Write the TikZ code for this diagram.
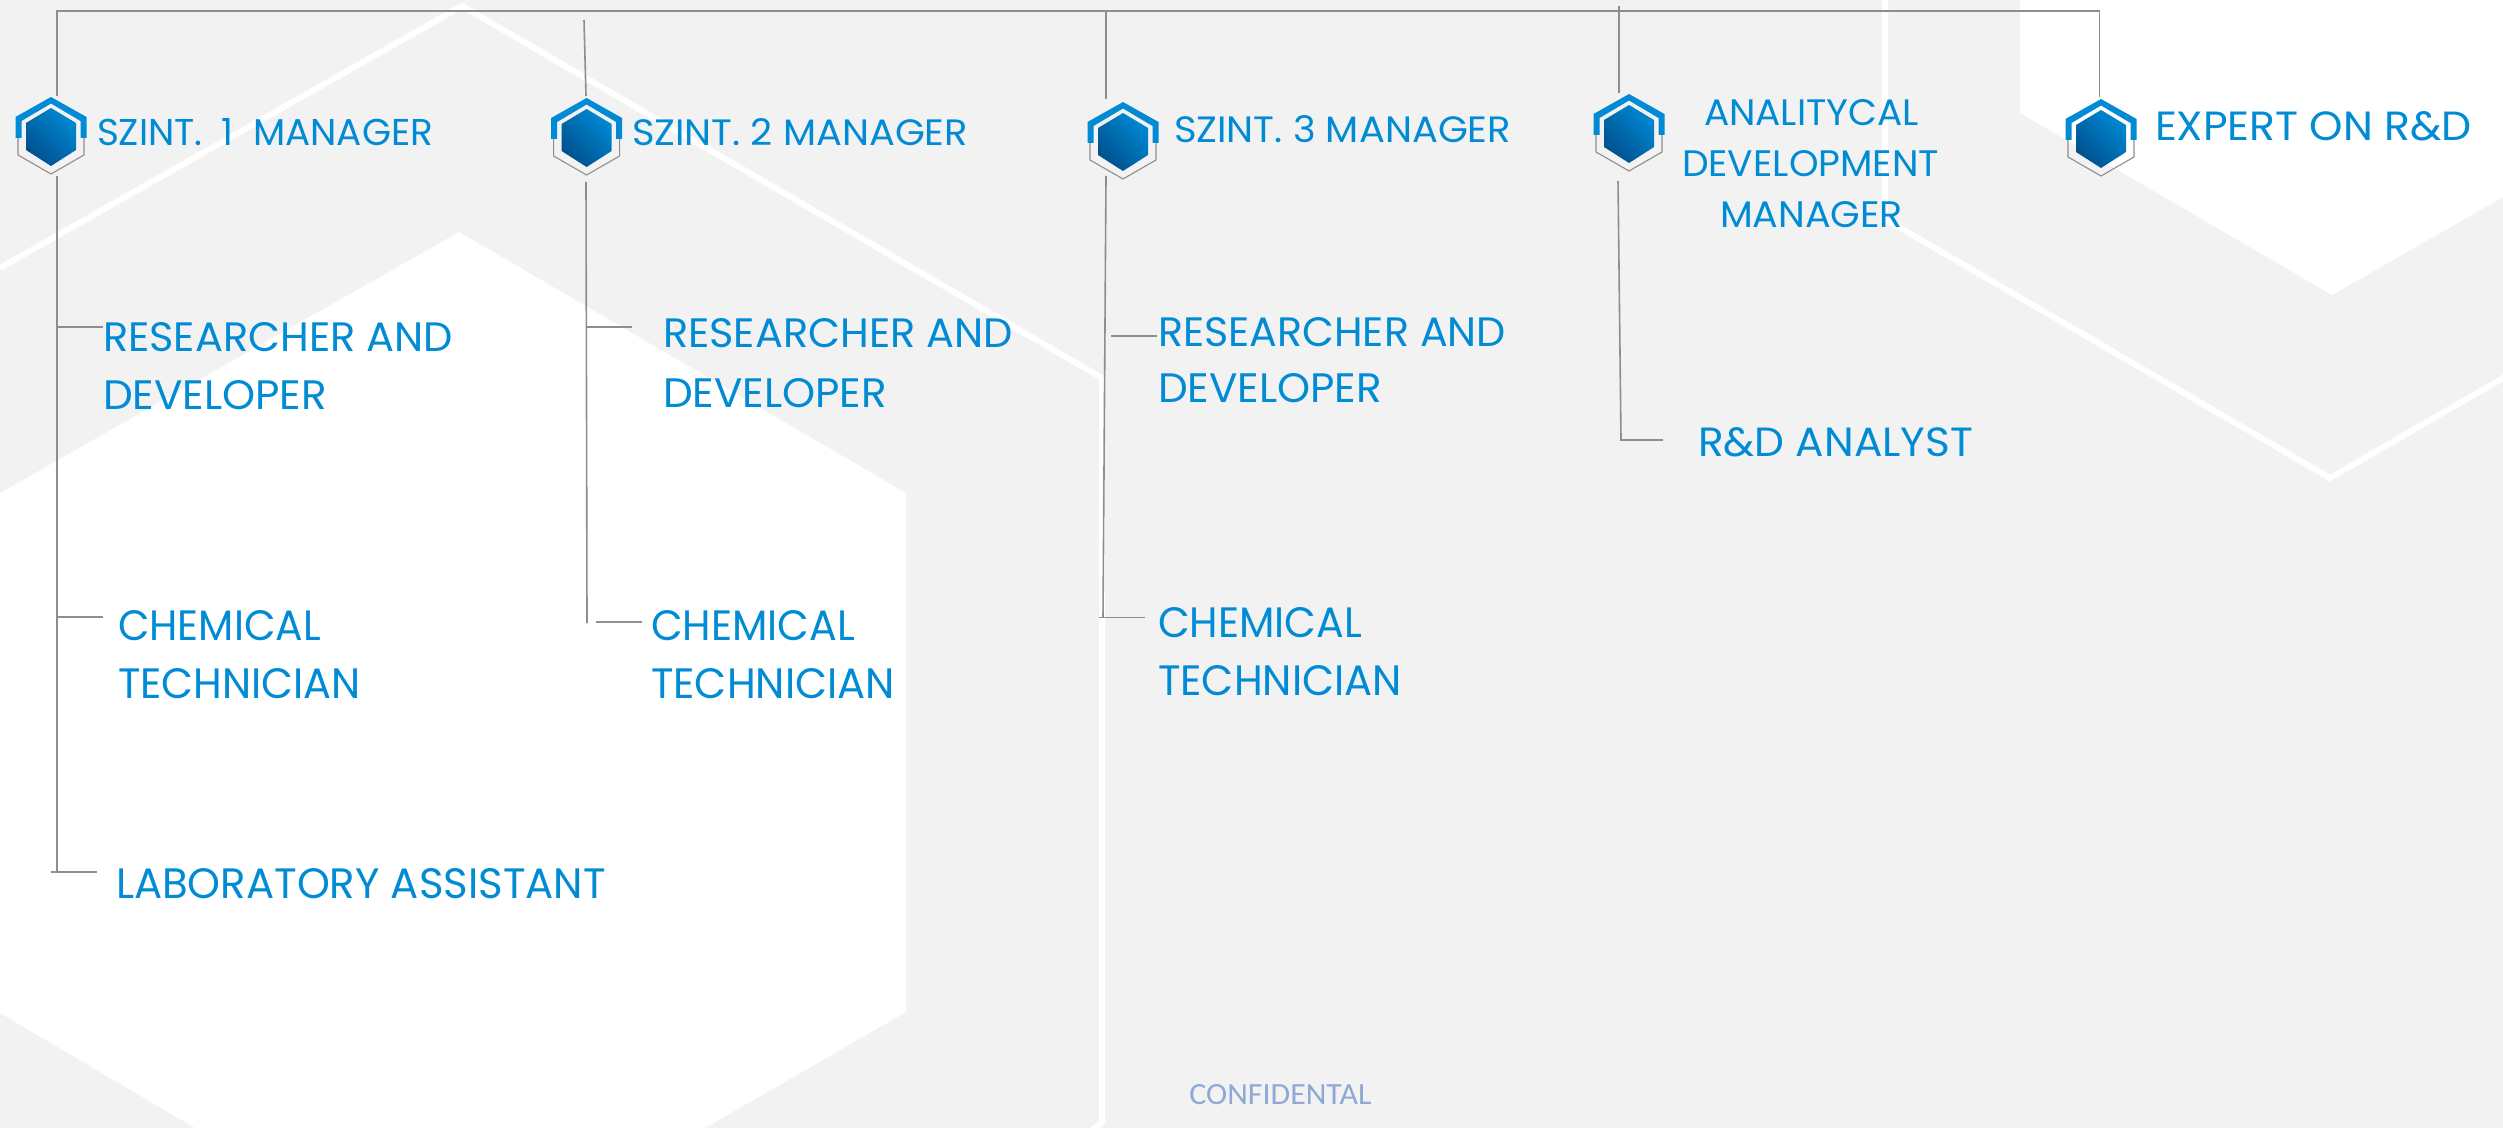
\documentclass[tikz,border=0pt]{standalone}
\usepackage{fontspec}
\usepackage{graphicx}
\newfontfamily\futfont{Poppins}
\newfontfamily\confont{Carlito}
\definecolor{bgcol}{HTML}{F2F2F2}
\definecolor{txtblue}{HTML}{008BD4}
\definecolor{linegray}{HTML}{8E8E8E}
\definecolor{confcol}{HTML}{8FA8D6}
\definecolor{hexdark}{HTML}{00508C}
\definecolor{hexmid}{HTML}{0076BE}
\definecolor{hexlight}{HTML}{0088D4}
\newlength\pxu
\setlength\pxu{0.5pt}
\tikzset{
  lab/.style={anchor=base west,inner sep=0pt,outer sep=0pt,text=txtblue},
  conn/.style={draw=linegray,line width=0.8pt},
  band/.style={draw=white,line width=3pt,miter limit=10},
  hexicon/.pic={
    \draw[draw=linegray,line width=0.55pt] (-33,40) -- (-33,58) -- (0,77) -- (33,58) -- (33,40);
    \fill[txtblue] (-35.5,20) -- (0,0) -- (35.5,20) -- (35.5,41) -- (29.5,41) -- (29.5,24) -- (0,6.5) -- (-29.5,24) -- (-29.5,41) -- (-35.5,41) -- cycle;
    \shade[top color=hexlight,middle color=hexmid,bottom color=hexdark,shading angle=-45]
      (0,11) -- (25,26) -- (25,53) -- (0,69) -- (-25,53) -- (-25,26) -- cycle;
  }
}
% name, x, baseline y, width, cap height, text
\newcommand\lab[6]{\node[lab] (#1) at (#2,#3) {\resizebox{#4\pxu}{#5\pxu}{\futfont #6}};}
\begin{document}
\begin{tikzpicture}[x=0.5pt,y=-0.5pt]
\useasboundingbox (0,0) rectangle (2503,1128);
\fill[bgcol] (0,0) rectangle (2503,1128);
% background hexagons
\fill[white] (0,493) -- (459,232) -- (906,493) -- (906,1012) -- (705,1128) -- (195,1128) -- (0,1013) -- cycle;
\fill[white] (2020,0) -- (2020,113) -- (2332,295) -- (2503,197) -- (2503,0) -- cycle;
\draw[band] (0,268) -- (462,6) -- (1102,378) -- (1102,1122) -- (1088,1134);
\draw[band] (1885,-4) -- (1885,219) -- (2330,478) -- (2510,374);
% icons
\pic at (51,97) {hexicon};
\pic at (586.6,98) {hexicon};
\pic at (1123,102) {hexicon};
\pic at (1629,94) {hexicon};
\pic at (2101,99) {hexicon};
% labels
\lab{m1}{97}{146}{336}{27}{SZINT.\hspace{0.25em} 1\hspace{0.25em} MANAGER}
\lab{m2}{632}{146}{336}{27}{SZINT. 2 MANAGER}
\lab{m3}{1174}{143}{337}{27}{SZINT. 3 MANAGER}
\lab{m4a}{1704}{126}{215}{26}{ANALITYCAL}
\lab{m4b}{1682}{177}{257}{26}{DEVELOPMENT}
\lab{m4c}{1720}{228}{183}{26}{MANAGER}
\lab{m5}{2155}{141}{317}{29}{EXPERT ON R\&D}
\lab{r1a}{103}{351}{350}{29}{RESEARCHER AND}
\lab{r1b}{103}{409}{224}{29}{DEVELOPER}
\lab{r2a}{663}{348}{350}{29}{RESEARCHER AND}
\lab{r2b}{663}{407}{224}{29}{DEVELOPER}
\lab{r3a}{1158}{346}{348}{29}{RESEARCHER AND}
\lab{r3b}{1158}{402}{224}{29}{DEVELOPER}
\lab{c1a}{118}{640}{203}{30}{CHEMICAL}
\lab{c1b}{118}{698}{243}{30}{TECHNICIAN}
\lab{c2a}{651}{640}{204}{30}{CHEMICAL}
\lab{c2b}{651}{698}{244}{30}{TECHNICIAN}
\lab{c3a}{1158}{637}{204}{30}{CHEMICAL}
\lab{c3b}{1158}{695}{244}{30}{TECHNICIAN}
\lab{l1}{116}{898}{490}{30}{LABORATORY ASSISTANT}
\lab{a4}{1698}{456}{275}{29}{R\&D ANALYST}
\node[anchor=base west,inner sep=0pt,text=confcol] (conf) at (1189,1104) {\resizebox{182\pxu}{20\pxu}{\confont CONFIDENTAL}};
% connector end points
\coordinate (tl) at (57,11);
\coordinate (tr) at (2099.5,11);
\coordinate (t1) at (57,96);
\coordinate (d1) at (57,176);
\coordinate (e1) at (57,872);
\coordinate (b1a) at (58,327); \coordinate (b1b) at (103,327);
\coordinate (b1c) at (57,617); \coordinate (b1d) at (103,617);
\coordinate (b1e) at (51,872); \coordinate (b1f) at (97,872);
\coordinate (t2a) at (584,20); \coordinate (t2b) at (586,96);
\coordinate (d2) at (586,182); \coordinate (e2) at (587,623);
\coordinate (b2a) at (586,327); \coordinate (b2b) at (632,327);
\coordinate (b2c) at (596,622); \coordinate (b2d) at (642,622);
\coordinate (t3a) at (1106,11); \coordinate (t3b) at (1106,99);
\coordinate (d3) at (1106,176); \coordinate (e3) at (1103,617);
\coordinate (b3a) at (1111,336); \coordinate (b3b) at (1157,336);
\coordinate (b3c) at (1099,617.5); \coordinate (b3d) at (1145,617.5);
\coordinate (t4a) at (1619,6); \coordinate (t4b) at (1619,93);
\coordinate (d4) at (1618,181); \coordinate (e4) at (1621,440);
\coordinate (b4b) at (1663,440);
\coordinate (t5) at (2099.5,97);
% connectors
\draw[conn] (t1) -- (tl) -- (tr) -- (t5);
\draw[conn] (d1) -- (e1);
\draw[conn] (b1a) -- (b1b);
\draw[conn] (b1c) -- (b1d);
\draw[conn] (b1e) -- (b1f);
\draw[conn] (t2a) -- (t2b);
\draw[conn] (d2) -- (e2);
\draw[conn] (b2a) -- (b2b);
\draw[conn] (b2c) -- (b2d);
\draw[conn] (t3a) -- (t3b);
\draw[conn] (d3) -- (e3);
\draw[conn] (b3a) -- (b3b);
\draw[conn] (b3c) -- (b3d);
\draw[conn] (t4a) -- (t4b);
\draw[conn] (d4) -- (e4) -- (b4b);
\end{tikzpicture}
\end{document}
